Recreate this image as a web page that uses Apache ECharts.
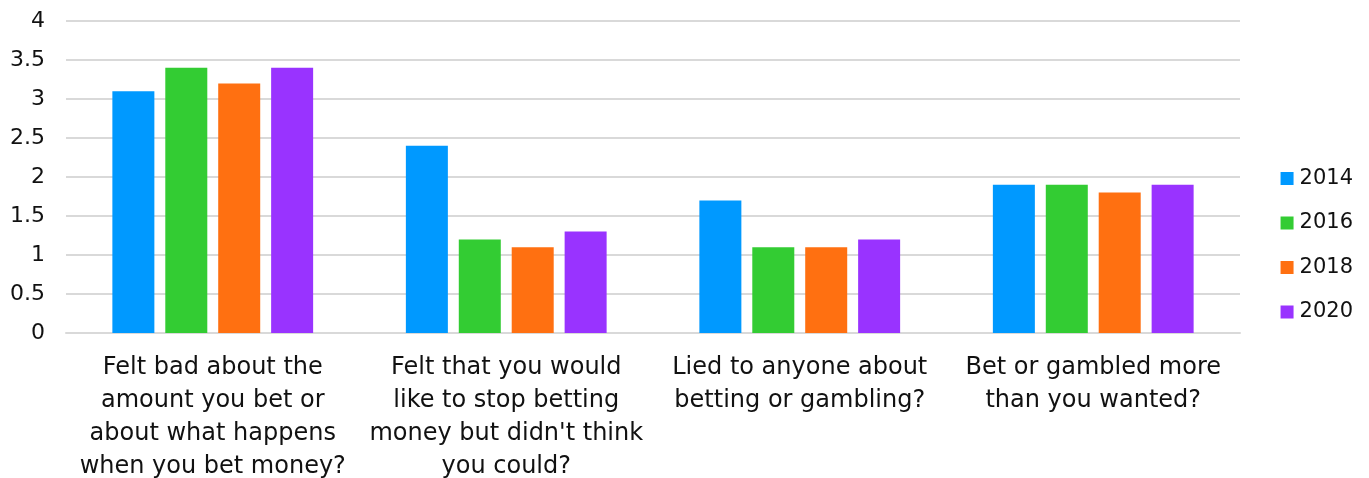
<!DOCTYPE html>
<html><head><meta charset="utf-8">
<script src="https://cdn.jsdelivr.net/npm/echarts@6/dist/echarts.min.js"></script>
<style>html,body{margin:0;padding:0;background:#fff}#c{width:1369px;height:478px}</style>
</head><body><div id="c"></div>
<script>
const categories = [
  "Felt bad about the\namount you bet or\nabout what happens\nwhen you bet money?",
  "Felt that you would\nlike to stop betting\nmoney but didn't think\nyou could?",
  "Lied to anyone about\nbetting or gambling?",
  "Bet or gambled more\nthan you wanted?"
];
const seriesNames = ["2014", "2016", "2018", "2020"];
const v2014 = [3.1, 2.4, 1.7, 1.9];
const v2016 = [3.4, 1.2, 1.1, 1.9];
const v2018 = [3.2, 1.1, 1.1, 1.8];
const v2020 = [3.4, 1.3, 1.2, 1.9];
const colors = ["#0099FF", "#33CC33", "#FF7011", "#9933FF"];
const values = [v2014, v2016, v2018, v2020];
const font = "'DejaVu Sans', sans-serif";
const chart = echarts.init(document.getElementById('c'));
chart.setOption({
  animation: false,
  textStyle: {fontFamily: font},
  grid: {left: 66, right: 129, top: 21, bottom: 145, containLabel: false, outerBoundsMode: 'none'},
  legend: {
    orient: 'vertical', right: 11, top: 163, padding: 5,
    itemWidth: 13, itemHeight: 13, itemGap: 23.5,
    icon: 'rect',
    textStyle: {fontSize: 21, color: '#111', fontFamily: font, padding: [0, 0, 0, 1]},
    data: seriesNames
  },
  xAxis: {
    type: 'category', data: categories,
    axisLine: {show: true, lineStyle: {color: '#d9d9d9', width: 2}},
    axisTick: {show: false},
    axisLabel: {fontSize: 24, color: '#111', lineHeight: 33, margin: 18, interval: 0, fontFamily: font, hideOverlap: false}
  },
  yAxis: {
    type: 'value', min: 0, max: 4, interval: 0.5,
    axisLine: {show: false}, axisTick: {show: false},
    splitLine: {lineStyle: {color: '#d9d9d9', width: 2}},
    axisLabel: {fontSize: 22, color: '#111', margin: 21, fontFamily: font}
  },
  series: seriesNames.map((n, i) => ({
    name: n, type: 'bar', data: values[i], barWidth: 42, barGap: '26%',
    itemStyle: {color: colors[i]}
  }))
});
</script></body></html>
